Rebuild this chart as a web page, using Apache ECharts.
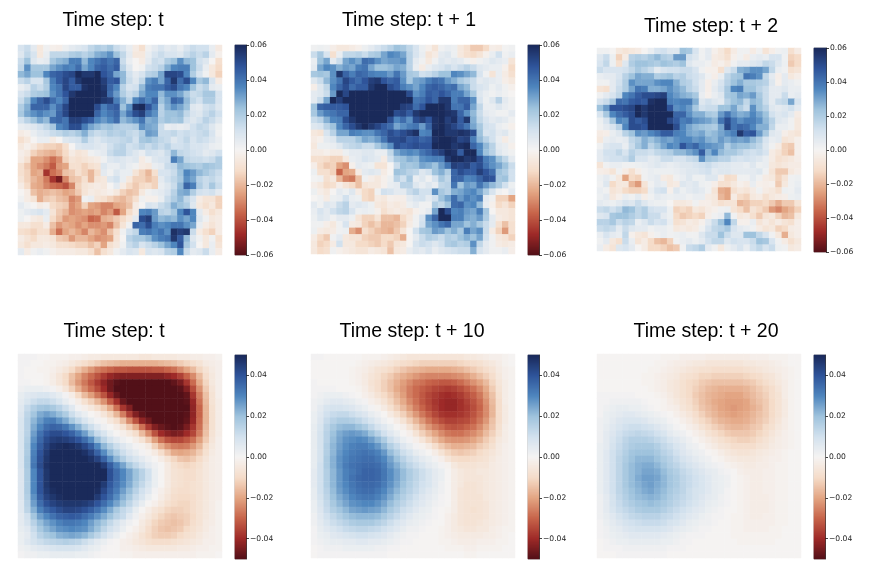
<!DOCTYPE html>
<html>
<head>
<meta charset="utf-8">
<style>html,body{margin:0;padding:0;background:#fff}#main{width:871px;height:571px}</style>
<script src="https://cdn.jsdelivr.net/npm/echarts@6/dist/echarts.min.js"></script>
</head>
<body>
<div id="main"></div>
<script>
// values, in thousandths, 32 rows of 32 cells (top row first)
const fieldT = [
[10,14,6,-6,2,-2,-3,3, 6,8,10,16,20,18,22,14, 10,4,-4,-10,2,6,10,6, 8,4,10,14,12,12,4,-5],
[8,16,10,-6,4,16,16,16, 20,22,18,22,28,30,34,24, 16,6,-6,-6,4,10,14,10, 10,8,14,18,14,18,6,-2],
[14,24,8,4,6,22,26,28, 38,38,26,36,40,44,40,44, 14,4,0,-4,6,14,12,20, 24,34,26,24,12,8,0,-10],
[16,34,22,22,22,30,34,38, 36,42,30,36,44,46,42,46, 18,8,0,2,12,14,18,28, 36,38,38,24,14,4,-6,-12],
[26,30,24,24,36,44,46,50, 52,60,56,56,60,48,44,30, 26,12,6,10,18,20,30,52, 52,50,36,20,10,2,-6,-14],
[14,18,10,10,22,38,46,52, 46,56,60,60,60,54,46,48, 26,14,8,16,34,38,30,44, 56,42,50,36,22,26,10,-4],
[4,8,18,14,20,36,40,52, 46,46,58,60,60,56,44,36, 18,10,12,26,38,40,40,46, 50,40,36,24,14,18,6,4],
[10,14,20,22,24,34,40,48, 56,60,60,60,60,58,42,32, 20,14,18,30,36,36,26,34, 34,30,22,14,16,22,22,10],
[14,24,36,44,50,42,36,44, 60,60,60,60,60,56,54,38, 28,18,36,42,36,44,24,30, 44,40,26,16,12,20,20,10],
[20,28,44,44,44,34,42,52, 60,60,60,60,50,38,44,46, 24,34,58,60,48,38,18,28, 34,30,24,8,6,12,14,8],
[22,30,34,38,34,32,44,52, 60,60,60,60,44,36,40,44, 30,40,50,54,40,34,18,24, 24,26,16,10,8,14,18,12],
[12,18,24,30,26,42,44,40, 54,54,50,46,36,32,36,42, 26,30,34,40,28,30,20,24, 22,24,12,8,12,18,14,8],
[4,6,8,12,16,22,36,40, 50,50,38,30,26,22,24,20, 18,18,20,34,30,28,14,4, 6,4,6,12,16,14,8,3],
[-4,-2,4,8,10,14,16,20, 18,22,28,18,14,16,20,18, 20,16,14,20,32,30,14,14, 16,12,14,12,14,16,10,2],
[-10,-6,0,4,4,-4,0,8, 10,12,20,12,8,12,14,14, 16,18,12,22,24,20,16,14, 8,12,16,10,14,12,8,4],
[-6,-2,-6,-12,-14,-14,-16,-10, 0,8,10,10,8,6,12,16, 18,12,14,18,14,18,14,18, 12,12,14,10,10,8,4,3],
[-3,-6,-14,-18,-20,-22,-18,-12, -4,-8,-6,2,4,6,14,18, 18,12,8,4,12,10,8,14, 26,16,14,12,10,6,8,12],
[-4,-10,-24,-24,-28,-34,-28,-14, -8,-10,-8,-6,-4,2,8,10, 8,6,8,-4,2,8,10,12, 38,30,16,14,14,12,14,20],
[-10,-16,-24,-28,-32,-38,-26,-24, -10,-10,-14,-10,-8,8,4,4, 8,4,2,-4,-6,4,6,14, 16,26,24,22,20,24,22,20],
[-10,-14,-24,-22,-46,-34,-30,-18, -16,-10,-14,-20,-12,6,2,8, 4,4,-8,-14,-20,-10,10,10, 14,24,36,32,26,22,18,14],
[-8,-14,-20,-24,-32,-46,-54,-30, -18,-16,-10,-20,-8,-6,8,12, 4,-6,-14,-14,-18,-14,6,12, 16,22,34,30,18,14,16,12],
[-4,-12,-22,-24,-30,-34,-36,-40, -30,-14,-8,-6,-4,-6,0,6, -4,-12,-16,-12,-10,-14,4,8, 14,26,44,38,20,14,22,14],
[0,-4,-18,-22,-20,-18,-20,-24, -22,-16,-8,-4,-6,-4,-2,-6, -14,-18,-16,-6,2,4,6,10, 18,28,30,20,12,10,12,6],
[2,-4,-8,-22,-16,-14,-18,-20, -30,-26,2,4,-8,-10,-14,-18, -20,-16,-10,2,-2,-2,4,14, 20,26,16,10,-4,-8,-8,-14],
[6,2,0,-4,-2,-12,-14,-16, -28,-24,-14,-24,-26,-30,-30,-24, -22,-18,-4,0,10,8,14,18, 28,24,20,8,-6,-10,-6,-14],
[3,6,8,10,6,-8,-16,-20, -28,-26,-24,-26,-24,-30,-26,-38, -24,-12,-4,36,38,32,18,16, 22,36,48,36,6,-4,-10,-6],
[3,0,-4,-6,4,-12,-18,-26, -24,-26,-28,-36,-34,-22,-20,-16, -12,-6,6,50,54,32,26,28, 26,34,30,36,8,2,-6,-4],
[-6,-6,-10,-10,-4,-18,-26,-22, -24,-28,-24,-28,-28,-26,-30,-18, -8,2,44,42,50,38,34,36, 40,40,34,30,4,-4,-8,-4],
[-10,-12,-14,-10,-10,-22,-34,-24, -20,-24,-30,-20,-24,-28,-18,-10, 2,12,16,38,40,36,40,34, 58,54,56,14,-4,-10,-14,-4],
[-4,-8,-12,-6,-6,-8,-16,-18, -26,-20,-20,-24,-28,-26,-24,-8, 0,18,22,22,26,34,38,40, 56,46,26,8,2,-6,2,-10],
[-6,-10,-6,-6,-4,-6,-10,-10, -12,-14,-14,-18,-14,-24,-10,-6, 2,14,18,10,14,18,24,30, 36,48,22,12,0,-6,4,-8],
[6,-4,2,4,2,-2,-4,-4, -4,-6,-6,-10,-18,-10,-6,2, 6,10,8,-6,10,8,10,18, 20,36,14,6,8,14,4,-4]
];
const fieldT1 = [
[2,3,2,-3,-6,-6,-4,-2, 3,6,10,14,18,24,22,16, 10,3,-2,-8,2,4,3,-6, -10,-16,-16,-12,-3,-4,1,2],
[14,22,10,-10,4,16,16,18, 14,20,22,30,36,34,30,18, 10,4,-8,-4,6,8,3,-6, -10,-12,-8,-2,4,12,2,4],
[4,24,30,6,14,30,34,30, 42,40,34,30,32,32,34,18, 6,2,-6,2,8,6,8,6, 2,-2,2,4,8,6,4,-8],
[6,30,36,34,28,32,30,38, 40,30,24,24,26,30,28,18, 4,-4,4,8,10,14,10,14, 18,14,8,6,4,4,-2,-12],
[22,24,22,34,56,44,38,44, 42,38,36,36,32,40,32,22, 20,12,14,18,24,24,36,34, 30,26,10,2,-8,4,-4,-10],
[8,14,26,34,40,52,46,42, 48,54,56,48,44,46,34,22, 30,32,38,42,40,32,28,22, 18,14,6,8,6,4,-3,-6],
[-3,8,16,36,44,50,42,46, 46,56,60,60,50,46,38,34, 30,36,44,46,44,40,42,30, 26,14,10,8,3,6,2,-2],
[6,8,14,32,60,52,60,60, 60,60,60,60,60,60,60,50, 34,38,46,44,48,44,38,38, 30,22,8,4,2,4,2,0],
[6,14,30,60,54,60,60,60, 60,60,60,60,60,60,60,60, 40,42,48,44,56,56,38,44, 44,34,10,3,8,18,6,2],
[24,44,46,46,46,48,60,60, 60,60,60,60,60,60,54,52, 42,48,60,60,60,56,40,40, 46,30,16,4,4,8,4,2],
[22,32,38,40,44,44,60,60, 60,60,60,60,60,50,52,46, 56,60,60,60,60,58,56,44, 34,26,14,6,4,2,2,6],
[14,18,28,36,38,50,56,60, 60,60,60,60,50,36,42,34, 50,54,48,58,60,54,58,46, 56,28,16,10,6,8,6,2],
[8,10,18,24,36,44,50,56, 60,56,52,46,42,30,34,38, 40,32,44,58,60,56,52,46, 40,30,22,12,10,4,2,-2],
[-6,-8,10,18,30,30,38,36, 34,34,40,44,50,46,50,54, 58,36,38,60,60,56,56,58, 56,50,24,10,12,6,8,2],
[-4,-2,6,8,18,18,18,24, 30,28,32,40,50,50,52,46, 48,44,46,58,60,60,58,52, 54,38,26,18,12,4,-4,2],
[-6,3,3,4,8,14,16,18, 14,14,22,28,34,50,46,48, 50,48,48,60,60,60,56,58, 60,44,36,26,18,6,4,-2],
[-4,-4,-2,-4,-4,3,6,6, 8,8,4,4,16,30,34,36, 34,40,44,50,54,60,58,46, 60,60,36,24,18,8,4,2],
[-10,-10,-12,-14,-14,-6,4,6, 10,8,6,-4,12,22,24,28, 26,34,36,38,38,56,60,60, 56,58,50,38,34,24,16,6],
[-3,-12,-16,-14,-24,-28,-2,6, 4,3,-8,-8,0,14,24,22, 24,30,28,24,32,40,54,52, 54,46,50,40,34,30,24,14],
[3,-10,-10,-14,-36,-24,-22,-4, 6,8,6,-4,0,24,22,18, 16,8,12,24,28,20,44,50, 46,46,54,48,42,24,20,12],
[1,2,-10,-6,-20,-30,-32,-18, 2,-3,-6,-2,3,18,12,22, 4,8,2,10,22,16,44,44, 36,38,44,50,48,22,24,12],
[-3,-6,-12,-10,-3,-8,-12,-18, -8,-6,-6,-2,4,6,18,18, 8,4,8,4,16,18,40,24, 32,30,40,32,26,20,12,3],
[3,-3,-6,0,6,3,8,-4, -12,-14,2,12,10,6,6,14, 18,12,12,34,22,18,28,30, 34,36,30,20,10,2,0,6],
[0,2,-4,3,4,12,4,3, -12,-14,-4,-6,-2,-3,-3,6, 10,12,6,12,24,30,42,32, 38,34,38,6,2,-14,-14,-24],
[6,2,8,6,14,18,6,8, 6,3,-6,-8,-4,-6,-4,3, 6,2,2,20,16,24,42,44, 34,36,26,4,-2,-12,-8,-14],
[4,10,6,12,16,18,10,3, 4,3,-2,-10,-6,-4,-6,-8, -2,2,6,30,60,50,36,38, 32,30,38,22,0,-6,-6,-8],
[3,8,6,2,6,6,3,-8, -14,-14,-8,-18,-18,-20,-12,-6, 2,10,34,44,60,60,38,38, 30,28,32,20,6,-4,-6,-8],
[2,2,-3,-6,2,10,-4,-6, -14,-18,-14,-20,-20,-18,-14,-4, 2,12,30,34,40,44,30,30, 24,28,22,14,6,-10,-18,-10],
[3,-4,-6,-4,2,3,-22,-28, -10,-14,-18,-20,-22,-16,-8,0, 12,22,24,32,30,24,28,22, 38,30,34,14,-4,-14,-26,-10],
[-4,-12,-16,2,6,-6,-8,-8, -14,-16,-16,-12,-12,-14,-22,0, 6,14,20,18,14,20,18,24, 28,24,30,12,2,-6,-8,-14],
[-6,-14,-12,-4,12,-6,-6,-12, -12,-14,-16,-12,-16,-8,-6,0, 10,14,12,8,12,20,22,18, 20,34,16,6,2,-4,-6,-4],
[-6,-12,-10,2,-2,-4,-6,-8, -8,-4,-6,-8,-18,-6,-4,4, 8,6,10,4,8,10,12,14, 14,28,10,6,2,2,4,-3]
];
const fieldT2 = [
[2,2,0,-6,-8,-6,-4,0, 4,10,12,8,8,24,22,10, 2,6,-2,-6,-12,-4,2,2, -4,2,-8,-3,2,3,-10,-4],
[8,14,3,-14,-4,18,20,18, 22,26,20,18,32,32,12,8, 2,6,-4,-6,-10,-2,2,-4, 4,6,4,10,10,2,-14,-12],
[10,16,3,-10,8,20,24,24, 22,20,24,22,20,24,8,4, 4,2,-4,-2,-6,2,6,6, 8,10,16,14,8,3,-16,-12],
[14,10,10,10,12,16,22,18, 14,6,10,12,12,14,14,10, 2,-2,-2,-10,8,14,28,30, 34,34,30,16,4,2,-10,-8],
[4,6,6,10,18,24,30,28, 28,20,22,24,18,20,14,12, 8,2,-3,4,16,22,24,40, 38,34,16,6,-3,6,-6,-3],
[2,2,6,12,20,34,30,30, 30,34,36,36,28,20,18,12, 6,-3,4,10,18,24,28,22, 22,20,18,8,-2,6,4,2],
[-8,-10,6,14,20,30,40,38, 28,28,30,34,30,26,18,14, 6,-3,6,12,22,36,38,24, 24,18,14,6,6,8,4,4],
[2,6,10,16,36,40,46,50, 50,52,54,36,32,28,26,22, 4,-2,4,8,22,24,30,28, 32,22,14,6,6,14,4,6],
[10,14,22,42,40,46,48,46, 58,60,60,38,36,38,38,28, 8,12,8,6,18,24,26,16, 26,24,14,6,14,16,30,10],
[24,32,48,48,50,52,60,56, 60,60,60,48,34,36,32,22, 12,14,14,24,24,30,20,14, 34,24,18,8,6,8,12,6],
[10,22,36,42,46,50,60,56, 60,60,60,60,44,44,34,28, 28,22,20,32,40,32,28,30, 36,30,24,12,8,10,6,-4],
[3,10,22,36,34,50,46,50, 60,60,60,52,46,38,40,34, 32,30,26,40,50,40,34,38, 38,34,26,18,8,6,2,-6],
[2,6,10,18,36,50,50,48, 60,60,60,60,50,36,30,26, 24,22,20,30,52,40,44,42, 36,28,28,16,4,4,2,-6],
[-4,-3,4,8,18,24,34,32, 36,40,46,46,38,36,30,28, 30,24,26,30,34,38,56,46, 48,32,22,8,6,-3,-6,-8],
[-6,4,6,4,6,16,20,28, 24,28,32,30,34,36,36,32, 34,28,26,32,28,32,30,32, 26,20,10,4,6,-8,-6,-2],
[2,8,10,10,4,14,22,28, 18,24,30,36,34,48,40,44, 36,34,32,30,20,26,24,24, 20,16,8,2,-4,-14,-16,-2],
[6,12,12,16,10,18,14,14, 12,16,18,20,26,26,30,34, 46,28,36,26,22,22,18,14, 12,14,10,-4,-8,-14,-18,-2],
[6,10,12,12,14,20,10,10, 6,8,14,14,10,10,14,16, 34,24,22,18,18,12,10,12, 10,8,4,-4,-10,-8,-6,-3],
[-8,2,4,4,2,2,3,4, 6,8,6,4,6,8,8,10, 12,14,10,8,8,6,6,4, 8,3,4,-6,-8,-6,-4,-4],
[-3,-4,-8,2,-4,-10,-3,2, 4,3,3,3,4,6,8,8, 10,12,6,8,8,6,6,6, 6,8,2,-8,-16,-16,-6,-3],
[3,6,2,-6,-24,-12,-14,2, 4,6,-4,-6,2,4,8,3, 3,8,8,-3,-12,-10,2,2, 6,2,-4,-6,-14,-8,2,3],
[2,8,-12,-6,-6,-20,-26,-8, 2,6,4,-6,-4,8,6,8, 3,2,-3,-10,-10,-6,-2,-4, 4,-2,-3,-2,-16,-6,2,4],
[4,2,-8,-6,-12,-14,-14,-12, 4,10,12,-2,8,3,6,8, 6,2,-8,-22,-24,-10,-6,-8, -4,2,-4,-6,-10,3,2,6],
[3,6,-6,-2,4,2,6,-3, 2,6,4,3,4,4,2,4, 4,-4,-6,-20,-24,-4,-12,-14, -6,-4,-10,-6,-4,-3,3,4],
[6,4,3,6,10,8,14,8, 4,3,3,0,-6,-6,-4,2, -3,-3,-6,-10,-8,-8,-20,-18, -14,-14,-12,-16,-22,-16,-16,-8],
[14,16,12,16,26,24,16,20, 12,10,10,3,-14,-12,-14,-6, -8,-4,-2,2,3,-8,-12,-18, -8,-12,-16,-26,-30,-24,-20,-14],
[8,10,22,24,24,20,16,20, 14,14,6,3,-12,-16,-14,-12, -14,-3,2,4,26,2,-6,-4, -10,-16,-8,-6,-14,-20,-18,-6],
[18,18,22,14,18,16,4,8, 14,10,12,4,-10,-8,-4,-6, -2,6,14,24,36,16,-2,-2, 4,-8,-4,-8,-4,-8,-10,-3],
[14,16,14,6,14,8,6,6, 2,4,4,2,-6,-4,-6,-4, 2,10,16,18,22,10,6,4, 2,-4,-8,-6,-14,-12,-4,-3],
[4,10,6,4,16,-2,-6,-8, -2,2,4,2,3,4,2,2, 8,14,14,24,14,8,8,24, 24,16,10,2,-6,-22,-6,-3],
[2,6,-6,-10,14,4,-8,-4, -12,-18,-20,-14,2,4,6,3, 6,12,16,16,8,12,10,10, 14,24,22,10,2,-4,-10,-6],
[4,-4,-8,8,10,6,0,-4, -12,-12,-14,-18,-16,2,14,16, 20,6,2,-6,3,6,10,4, 12,16,10,14,3,2,-6,-4]
];
const fieldLow = [
[1,1,1,0,0,-1,-1,-1, -2,-2,-3,-4,-4,-5,-5,-5, -5,-5,-5,-6,-6,-5,-5,-5, -5,-4,-4,-3,-3,-2,-2,-1],
[1,1,0,0,-1,-1,-2,-3, -5,-7,-9,-11,-13,-15,-16,-17, -18,-18,-18,-18,-18,-18,-17,-16, -15,-13,-11,-9,-7,-4,-3,-2],
[1,0,0,-1,-1,-2,-4,-6, -10,-14,-18,-22,-26,-28,-30,-32, -32,-33,-33,-33,-33,-32,-32,-30, -28,-24,-20,-16,-11,-7,-4,-2],
[1,0,0,0,-1,-3,-6,-10, -15,-20,-25,-29,-33,-37,-41,-43, -44,-44,-44,-44,-44,-44,-44,-42, -40,-36,-30,-24,-16,-9,-5,-2],
[1,1,0,0,-1,-3,-6,-10, -16,-22,-27,-32,-37,-42,-46,-49, -50,-50,-50,-50,-50,-50,-50,-50, -48,-45,-38,-29,-19,-11,-5,-2],
[2,3,3,3,2,1,-2,-6, -12,-18,-24,-29,-34,-40,-46,-50, -50,-50,-50,-50,-50,-50,-50,-50, -50,-49,-44,-34,-23,-13,-6,-2],
[4,6,7,8,8,6,4,1, -3,-10,-16,-21,-27,-33,-41,-47, -50,-50,-50,-50,-50,-50,-50,-50, -50,-50,-48,-38,-26,-15,-7,-2],
[5,8,11,13,13,11,8,4, 1,-3,-8,-12,-17,-23,-31,-39, -47,-50,-50,-50,-50,-50,-50,-50, -50,-50,-49,-41,-28,-16,-7,-3],
[6,12,16,19,20,18,15,11, 6,1,-2,-5,-9,-13,-19,-28, -38,-44,-50,-50,-50,-50,-50,-50, -50,-50,-50,-42,-30,-17,-8,-3],
[7,14,19,24,26,24,21,17, 11,6,3,0,-2,-6,-11,-17, -26,-36,-44,-48,-50,-50,-50,-50, -50,-50,-49,-42,-30,-17,-8,-3],
[8,15,22,27,31,32,28,24, 18,13,8,4,1,-1,-5,-9, -15,-24,-33,-42,-46,-50,-50,-50, -50,-50,-48,-41,-29,-17,-8,-3],
[8,15,24,30,35,37,36,33, 28,23,16,11,6,2,0,-3, -7,-13,-19,-28,-37,-44,-47,-49, -50,-49,-45,-38,-28,-16,-8,-3],
[8,15,26,34,39,42,42,40, 37,32,26,19,12,8,3,0, -2,-5,-9,-16,-24,-33,-40,-43, -45,-44,-40,-35,-26,-15,-7,-3],
[8,16,28,36,42,45,46,45, 43,40,35,29,21,14,9,5, 2,0,-3,-7,-13,-21,-28,-33, -35,-35,-32,-28,-21,-13,-6,-2],
[8,17,30,38,44,48,49,50, 49,47,43,38,30,22,16,11, 7,4,1,-1,-4,-12,-18,-23, -26,-27,-26,-22,-17,-10,-5,-2],
[8,17,31,40,46,50,50,50, 50,50,48,44,37,29,22,16, 11,7,4,1,-1,-4,-9,-14, -19,-20,-19,-17,-13,-8,-4,-2],
[8,18,32,41,47,50,50,50, 50,50,50,48,44,37,29,22, 16,11,8,5,2,0,-3,-7, -11,-14,-15,-13,-10,-6,-3,-2],
[8,18,33,42,48,50,50,50, 50,50,50,50,50,46,38,31, 25,18,13,9,5,2,0,-4, -8,-10,-11,-10,-8,-5,-3,-2],
[7,17,30,40,47,50,50,50, 50,50,50,50,50,50,41,35, 30,25,20,15,10,3,0,-4, -7,-8,-9,-9,-7,-5,-3,-2],
[7,17,30,40,47,50,50,50, 50,50,50,50,50,50,41,35, 30,25,20,15,10,3,0,-4, -7,-8,-9,-9,-7,-5,-3,-2],
[7,17,30,40,47,50,50,50, 50,50,50,50,50,46,39,34, 29,24,18,13,8,3,0,-4, -7,-8,-9,-8,-7,-5,-3,-2],
[7,17,30,40,46,49,50,50, 50,50,50,50,49,43,37,32, 26,21,15,10,6,1,-2,-5, -8,-9,-9,-8,-7,-5,-3,-2],
[7,16,28,38,44,47,49,50, 50,50,50,50,46,40,35,29, 23,18,12,8,3,0,-3,-6, -9,-10,-10,-9,-7,-5,-3,-2],
[6,15,26,35,41,44,46,47, 47,47,46,44,40,35,30,25, 20,14,9,4,0,-2,-5,-8, -10,-11,-11,-9,-7,-5,-3,-1],
[6,14,23,31,36,39,42,44, 44,43,41,38,34,29,24,18, 13,10,4,0,-3,-6,-8,-11, -12,-12,-11,-9,-7,-5,-3,-1],
[5,10,19,26,30,34,37,38, 39,38,35,32,28,24,20,15, 12,6,2,-2,-5,-8,-11,-13, -14,-13,-12,-10,-7,-5,-3,-1],
[5,9,15,21,25,28,31,33, 33,32,30,26,22,18,13,9, 5,2,0,-4,-7,-11,-13,-14, -15,-14,-12,-9,-7,-4,-3,-1],
[4,6,12,18,22,25,28,29, 30,29,28,24,20,14,10,7, 3,0,-2,-5,-9,-12,-14,-15, -14,-13,-10,-8,-6,-4,-2,-1],
[3,5,10,15,18,20,23,24, 25,24,22,18,14,10,6,3, 0,-2,-4,-7,-10,-12,-13,-13, -12,-10,-8,-7,-5,-3,-2,-1],
[3,6,9,11,13,14,15,16, 15,14,11,8,5,3,1,0, -2,-3,-5,-6,-8,-9,-9,-9, -8,-7,-6,-5,-4,-2,-2,-1],
[2,3,5,6,7,8,9,9, 9,8,6,4,3,1,0,0, -2,-2,-3,-4,-5,-5,-5,-5, -5,-4,-4,-3,-2,-2,-1,-1],
[1,2,2,3,3,4,4,4, 4,3,3,2,1,0,0,0, -1,-1,-2,-2,-2,-2,-2,-2, -2,-2,-2,-2,-1,-1,-1,0]
];
const fieldLow10 = [
[1,1,0,0,0,0,0,0, -1,-1,-1,-2,-3,-4,-5,-6, -6,-6,-6,-6,-6,-6,-6,-6, -5,-5,-4,-3,-2,-2,-1,0],
[0,0,0,0,0,0,0,-1, -2,-3,-4,-5,-6,-8,-9,-10, -11,-12,-12,-12,-12,-12,-12,-11, -10,-9,-8,-6,-5,-3,-1,0],
[0,0,0,0,0,0,-1,-2, -3,-5,-7,-8,-10,-12,-14,-16, -17,-18,-19,-19,-19,-19,-18,-17, -15,-13,-11,-9,-7,-4,-2,-1],
[0,0,0,0,0,0,-1,-2, -4,-6,-8,-11,-13,-16,-18,-20, -22,-24,-25,-25,-25,-25,-24,-23, -21,-18,-15,-12,-9,-5,-2,-1],
[1,0,0,0,0,0,-1,-2, -4,-7,-9,-12,-15,-18,-21,-24, -27,-28,-30,-31,-32,-32,-31,-29, -26,-23,-20,-16,-11,-6,-3,-1],
[1,1,1,1,0,0,0,-1, -3,-6,-9,-12,-15,-19,-22,-26, -29,-31,-33,-35,-36,-37,-36,-34, -31,-28,-24,-19,-13,-7,-3,-1],
[1,2,3,3,3,2,1,0, -2,-4,-7,-10,-13,-17,-21,-26, -29,-32,-35,-37,-39,-40,-39,-37, -34,-31,-27,-21,-15,-8,-3,-1],
[2,3,5,6,6,5,4,2, 1,-2,-4,-7,-11,-15,-19,-24, -28,-32,-35,-38,-40,-41,-41,-39, -36,-33,-29,-23,-16,-9,-3,-1],
[2,5,8,9,9,8,7,5, 3,1,-1,-4,-8,-12,-16,-21, -26,-30,-34,-37,-40,-41,-41,-39, -37,-34,-30,-24,-17,-9,-4,-1],
[3,6,10,12,13,13,11,9, 7,4,2,0,-4,-8,-12,-17, -22,-27,-31,-35,-38,-39,-39,-38, -36,-33,-29,-24,-17,-9,-4,-1],
[3,7,12,15,17,17,16,14, 11,8,5,2,0,-3,-7,-12, -17,-22,-27,-31,-34,-36,-36,-35, -34,-31,-27,-22,-15,-9,-4,-1],
[4,8,14,18,21,22,22,20, 17,13,9,6,3,0,-2,-7, -12,-17,-22,-26,-29,-32,-33,-32, -30,-28,-24,-19,-14,-8,-3,-1],
[4,9,15,20,24,26,27,26, 24,20,15,10,6,3,0,-2, -7,-12,-16,-20,-24,-27,-28,-28, -26,-24,-21,-16,-12,-7,-3,-1],
[4,9,15,21,25,28,29,30, 29,26,22,17,11,7,3,1, -2,-6,-11,-15,-19,-22,-23,-23, -22,-20,-17,-13,-10,-5,-3,-1],
[4,9,16,22,26,29,31,32, 32,30,27,22,16,12,7,4, 1,-1,-4,-9,-13,-16,-18,-18, -17,-16,-13,-11,-8,-4,-2,-1],
[4,9,16,22,27,30,32,33, 34,33,31,27,21,16,11,8, 4,2,0,-3,-7,-11,-13,-14, -13,-12,-10,-8,-6,-4,-2,-1],
[4,9,17,23,28,31,33,34, 35,35,33,30,25,20,15,11, 8,5,3,1,-2,-6,-9,-10, -10,-9,-8,-7,-5,-3,-2,-1],
[4,10,17,23,28,32,34,35, 36,36,35,32,27,23,18,14, 11,8,5,3,1,-1,-5,-7, -7,-7,-6,-6,-4,-3,-2,-1],
[5,10,16,22,27,31,33,35, 37,37,36,33,29,25,21,17, 14,11,8,5,3,0,-3,-5, -6,-6,-5,-5,-4,-3,-2,-1],
[5,10,16,22,27,31,34,36, 37,37,36,33,29,25,21,17, 14,11,8,5,3,0,-3,-5, -6,-6,-6,-5,-4,-3,-2,-1],
[5,10,16,22,27,30,33,35, 36,36,35,32,28,24,20,16, 13,10,8,5,2,0,-3,-5, -7,-7,-6,-5,-4,-3,-2,-1],
[4,10,15,21,26,29,32,34, 35,35,33,30,26,22,18,15, 12,9,6,4,2,0,-3,-6, -7,-7,-6,-5,-4,-3,-2,-1],
[4,9,14,20,24,27,30,32, 33,33,31,28,24,20,16,13, 10,7,5,3,1,0,-3,-6, -7,-7,-7,-5,-4,-3,-2,-1],
[3,8,13,18,22,25,28,29, 30,30,28,25,21,17,14,11, 8,6,4,2,1,0,-3,-6, -7,-7,-7,-6,-4,-3,-2,-1],
[3,7,12,16,19,22,25,26, 27,26,25,22,18,15,11,9, 6,4,3,1,0,-1,-3,-6, -7,-8,-7,-6,-4,-3,-2,-1],
[2,6,10,13,16,19,21,22, 22,22,21,18,15,12,9,6, 4,3,2,1,0,-2,-4,-6, -7,-7,-7,-6,-4,-3,-2,-1],
[2,5,8,11,13,15,17,18, 18,18,16,14,11,8,6,4, 3,2,1,0,0,-2,-4,-6, -7,-7,-6,-5,-4,-3,-2,-1],
[1,4,6,8,10,12,13,14, 14,13,12,10,8,6,4,2, 2,1,0,0,-1,-2,-4,-5, -6,-6,-5,-5,-3,-2,-1,-1],
[1,3,4,6,7,8,9,10, 10,9,8,7,5,3,2,1, 1,0,0,0,-1,-2,-3,-4, -4,-4,-4,-3,-3,-2,-1,0],
[1,2,3,4,4,5,5,6, 6,5,5,4,3,2,1,1, 0,0,0,0,-1,-1,-2,-3, -3,-3,-2,-2,-2,-1,-1,0],
[0,1,2,2,2,3,3,3, 3,3,2,2,1,1,0,0, 0,0,0,0,0,-1,-1,-1, -2,-2,-1,-1,-1,-1,0,0],
[0,1,1,1,1,1,1,1, 1,1,1,1,0,0,0,0, 0,0,0,0,0,0,0,0, -1,-1,0,0,0,0,0,0]
];
const fieldLow20 = [
[0,0,0,0,0,0,0,0, 0,0,-1,-1,-1,-2,-2,-2, -2,-3,-3,-3,-3,-3,-3,-3, -2,-2,-2,-1,-1,-1,0,0],
[0,0,0,0,0,0,0,0, 0,-1,-1,-2,-3,-3,-4,-5, -5,-6,-6,-6,-6,-6,-6,-5, -5,-4,-4,-3,-2,-1,0,0],
[0,0,0,0,0,0,0,0, -1,-1,-2,-3,-4,-5,-6,-7, -8,-8,-9,-9,-9,-9,-9,-8, -7,-6,-5,-4,-3,-2,-1,0],
[0,0,0,0,0,0,0,-1, -1,-2,-3,-4,-5,-7,-8,-9, -11,-11,-12,-12,-12,-12,-12,-11, -10,-9,-7,-6,-4,-2,-1,0],
[0,0,0,0,0,0,0,-1, -1,-2,-3,-5,-6,-8,-10,-11, -13,-14,-15,-15,-15,-15,-15,-14, -13,-11,-9,-7,-5,-3,-1,0],
[0,0,0,0,0,0,0,0, -1,-2,-3,-5,-6,-8,-10,-12, -14,-16,-17,-18,-18,-18,-18,-17, -15,-13,-11,-9,-6,-3,-1,0],
[1,1,1,1,1,1,0,0, 0,-1,-2,-4,-6,-8,-10,-13, -15,-17,-18,-19,-20,-20,-20,-18, -16,-14,-12,-9,-7,-3,-1,0],
[1,1,2,2,2,2,2,1, 0,0,-1,-3,-5,-7,-9,-12, -15,-17,-19,-20,-21,-21,-21,-20, -17,-15,-13,-10,-7,-4,-1,0],
[1,2,3,4,4,3,3,2, 1,0,-1,-2,-3,-6,-8,-11, -14,-16,-18,-20,-21,-22,-21,-20, -18,-16,-13,-10,-7,-4,-1,0],
[1,3,4,5,6,6,5,4, 3,2,1,0,-2,-4,-6,-9, -12,-15,-17,-19,-20,-21,-20,-19, -17,-15,-13,-10,-7,-4,-1,0],
[2,3,5,7,8,8,8,7, 5,4,3,1,0,-2,-4,-7, -10,-12,-15,-17,-18,-19,-19,-18, -16,-14,-12,-9,-6,-3,-1,0],
[2,4,6,8,10,11,11,10, 9,7,5,3,1,0,-2,-4, -7,-10,-12,-14,-16,-17,-17,-16, -14,-13,-10,-8,-5,-3,-1,0],
[2,5,7,10,12,13,14,13, 12,10,8,5,3,2,0,-2, -4,-7,-9,-11,-13,-14,-14,-14, -13,-11,-9,-6,-4,-2,-1,0],
[2,5,8,11,14,16,16,16, 15,13,11,8,6,4,2,0, -2,-4,-6,-8,-10,-11,-12,-12, -11,-9,-7,-5,-3,-2,-1,0],
[3,5,9,12,15,17,18,18, 18,16,13,11,8,6,3,2, 0,-2,-4,-6,-7,-9,-9,-9, -9,-7,-6,-4,-3,-2,-1,0],
[3,6,10,13,16,19,20,20, 20,18,15,13,10,7,5,3, 2,0,-1,-3,-5,-6,-7,-7, -6,-5,-4,-3,-2,-1,0,0],
[3,6,10,14,17,20,22,22, 22,20,17,15,12,9,7,5, 3,2,0,-1,-3,-4,-5,-5, -5,-4,-3,-2,-2,-1,0,0],
[3,6,10,14,18,21,23,24, 24,22,19,16,14,11,9,7, 5,3,2,1,-1,-2,-3,-4, -4,-3,-3,-2,-1,-1,0,0],
[3,6,10,14,18,21,23,25, 25,24,21,18,16,13,11,9, 7,5,4,2,1,0,-2,-3, -3,-3,-2,-2,-1,-1,0,0],
[3,6,10,14,18,21,24,26, 26,25,22,19,17,14,12,10, 8,6,4,3,2,0,-1,-2, -3,-3,-2,-2,-1,-1,0,0],
[3,6,10,14,18,21,23,25, 26,24,22,19,17,14,12,10, 8,6,4,3,2,0,-1,-2, -3,-3,-2,-2,-1,-1,0,0],
[3,6,10,14,17,20,22,24, 25,23,21,18,16,14,11,9, 8,6,4,3,1,0,-1,-2, -3,-3,-2,-2,-1,-1,0,0],
[2,5,9,13,16,19,21,22, 23,22,20,17,15,13,11,9, 7,5,4,2,1,0,-1,-2, -3,-3,-3,-2,-1,-1,0,0],
[2,5,9,12,15,17,19,20, 21,20,18,16,14,12,10,8, 6,4,3,2,1,0,-1,-2, -3,-3,-3,-2,-1,-1,0,0],
[2,5,8,11,13,15,17,18, 18,18,16,14,12,10,8,6, 5,3,2,1,0,0,-1,-2, -3,-3,-3,-2,-1,-1,0,0],
[2,4,6,9,11,13,14,15, 15,15,13,12,10,8,6,5, 3,2,1,1,0,-1,-1,-2, -3,-3,-2,-2,-1,-1,0,0],
[1,3,5,7,9,10,11,12, 12,12,11,9,8,6,4,3, 2,2,1,0,0,-1,-1,-2, -2,-2,-2,-2,-1,-1,0,0],
[1,2,4,5,7,8,9,9, 9,9,8,7,5,4,3,2, 1,1,0,0,0,-1,-1,-2, -2,-2,-2,-1,-1,0,0,0],
[1,2,3,4,5,6,6,6, 6,6,5,4,3,2,1,1, 1,0,0,0,0,-1,-1,-1, -1,-1,-1,-1,-1,0,0,0],
[0,1,2,3,3,4,4,4, 4,4,3,3,2,1,1,0, 0,0,0,0,0,0,-1,-1, -1,-1,-1,-1,0,0,0,0],
[0,1,1,1,2,2,2,2, 2,2,2,1,1,1,0,0, 0,0,0,0,0,0,0,0, 0,0,0,0,0,0,0,0],
[0,0,0,1,1,1,1,1, 1,1,1,0,0,0,0,0, 0,0,0,0,0,0,0,0, 0,0,0,0,0,0,0,0]
];
const ticksTop = [-0.06, -0.04, -0.02, 0, 0.02, 0.04, 0.06];
const ticksBottom = [-0.04, -0.02, 0, 0.02, 0.04];
// colour stops picked off the reference colorbar, low to high
const rdBu = ['#521018','#9e2a28','#c7644a','#e3a583','#f5dcc9','#f5f3f2','#d2e1ee','#9fc3dd','#4f86be','#2f549a','#1a2a5a'];

const panels = [
  { title: 'Time step: t',      tx: 113, ty: 11,  field: fieldT,     x: 18,  y: 45,  w: 204, h: 210, bx: 235, bw: 11, by: 45,  bh: 210, max: 0.06, ticks: ticksTop },
  { title: 'Time step: t + 1',  tx: 409, ty: 11,  field: fieldT1,    x: 311, y: 45,  w: 204, h: 209, bx: 528, bw: 11, by: 45,  bh: 210, max: 0.06, ticks: ticksTop },
  { title: 'Time step: t + 2',  tx: 711, ty: 17,  field: fieldT2,    x: 597, y: 48,  w: 204, h: 203, bx: 814, bw: 12, by: 48,  bh: 204, max: 0.06, ticks: ticksTop },
  { title: 'Time step: t',      tx: 114, ty: 322, field: fieldLow,   x: 18,  y: 354, w: 204, h: 204, bx: 235, bw: 11, by: 355, bh: 204, max: 0.05, ticks: ticksBottom },
  { title: 'Time step: t + 10', tx: 412, ty: 322, field: fieldLow10, x: 311, y: 354, w: 204, h: 204, bx: 528, bw: 11, by: 355, bh: 204, max: 0.05, ticks: ticksBottom },
  { title: 'Time step: t + 20', tx: 706, ty: 322, field: fieldLow20, x: 597, y: 354, w: 204, h: 204, bx: 814, bw: 11, by: 355, bh: 204, max: 0.05, ticks: ticksBottom }
];

const tickFormat = v => {
  const s = Math.abs(v).toFixed(2);
  return v < 0 ? '\u2212' + s : s;
};

const option = { animation: false, backgroundColor: '#fff', title: [], grid: [], xAxis: [], yAxis: [], visualMap: [], series: [] };

panels.forEach((p, i) => {
  option.title.push({
    text: p.title, left: p.tx, top: p.ty, textAlign: 'center', padding: 0,
    textStyle: { fontFamily: 'Liberation Sans', fontSize: 19.5, fontWeight: 'normal', color: '#000' }
  });

  // field heatmap
  const fieldGrid = option.grid.length;
  option.grid.push({ left: p.x, top: p.y, width: p.w, height: p.h });
  const fieldX = option.xAxis.length;
  option.xAxis.push({ type: 'category', gridIndex: fieldGrid, data: p.field[0].map((_, c) => c), show: false });
  const fieldY = option.yAxis.length;
  option.yAxis.push({ type: 'category', gridIndex: fieldGrid, data: p.field.map((_, r) => r), inverse: true, show: false });
  const data = [];
  p.field.forEach((row, r) => row.forEach((v, c) => data.push([c, r, v / 1000])));
  const heatIndex = option.series.length;
  option.series.push({ type: 'heatmap', xAxisIndex: fieldX, yAxisIndex: fieldY, data, progressive: 0, emphasis: { disabled: true } });

  // colorbar: a one column heatmap, one cell per pixel row, ticks on a value axis
  const barGrid = option.grid.length;
  option.grid.push({ left: p.bx, top: p.by, width: p.bw, height: p.bh, show: true, borderColor: '#999', borderWidth: 0.8, backgroundColor: 'transparent' });
  const barX = option.xAxis.length;
  option.xAxis.push({ type: 'category', gridIndex: barGrid, data: ['bar'], show: false });
  const barY = option.yAxis.length;
  const steps = Array.from({ length: p.bh }, (_, k) => k);
  option.yAxis.push({ type: 'category', gridIndex: barGrid, data: steps, show: false });
  option.yAxis.push({
    type: 'value', gridIndex: barGrid, position: 'right', min: -p.max, max: p.max,
    splitLine: { show: false }, axisLine: { show: true, lineStyle: { color: '#111', width: 0.8 } },
    axisTick: { show: true, length: 3, lineStyle: { color: '#111', width: 0.8 }, customValues: p.ticks },
    axisLabel: { show: true, margin: 4, fontFamily: 'DejaVu Sans', fontSize: 7.6, color: '#222', customValues: p.ticks, formatter: tickFormat }
  });
  const barIndex = option.series.length;
  option.series.push({
    type: 'heatmap', xAxisIndex: barX, yAxisIndex: barY, progressive: 0, emphasis: { disabled: true },
    data: steps.map(k => [0, k, -p.max + 2 * p.max * (k + 0.5) / p.bh])
  });

  option.visualMap.push({ type: 'continuous', show: false, seriesIndex: [heatIndex, barIndex], min: -p.max, max: p.max, inRange: { color: rdBu } });
});

echarts.init(document.getElementById('main'), null, { renderer: 'canvas' }).setOption(option);
</script>
</body>
</html>
